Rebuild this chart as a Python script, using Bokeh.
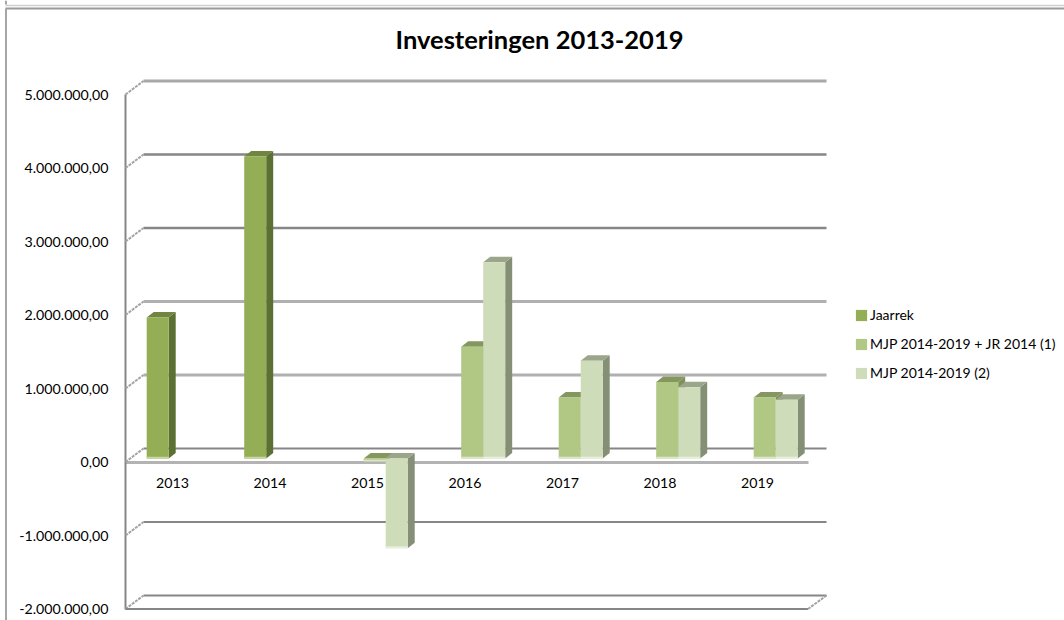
from bokeh.plotting import figure
from bokeh.embed import file_html
from bokeh.resources import INLINE
from bokeh.models import (Range1d, LinearAxis, FixedTicker, Label, Legend, LegendItem)

years = ["2013", "2014", "2015", "2016", "2017", "2018", "2019"]
jaarrek = [1920000, 4110000, None, None, None, None, None]
mjp_jr = [None, None, -40000, 1520000, 830000, 1040000, 830000]
mjp = [None, None, -1220000, 2670000, 1330000, 970000, 800000]
value_ticks = [5000000, 4000000, 3000000, 2000000, 1000000, 0, -1000000, -2000000]
value_labels = ["5.000.000,00", "4.000.000,00", "3.000.000,00", "2.000.000,00",
                "1.000.000,00", "0,00", "-1.000.000,00", "-2.000.000,00"]

W, H = 1064, 620
FONT = "Lato"
PX_PER_CAT, CAT0 = 97.5, 172.0
PX_PER_VAL, ZERO = 73.5 / 1e6, 461.5

def xd(px):
    return (px - CAT0) / PX_PER_CAT

def yd(px):
    return (ZERO - px) / PX_PER_VAL

dxc = 1 / PX_PER_CAT      # one pixel, in category units
dyv = 1 / PX_PER_VAL      # one pixel, in value units

p = figure(width=W, height=H, output_backend="svg", toolbar_location=None,
           x_axis_type=None, y_axis_type=None, title=None,
           x_range=Range1d(xd(0), xd(W)), y_range=Range1d(yd(H), yd(0)),
           min_border=0, outline_line_color=None, background_fill_color="white")
p.xgrid.visible = False
p.ygrid.visible = False

# outer worksheet frames
p.segment(x0=[xd(5), xd(5)], y0=[yd(5), yd(8)], x1=[xd(W), xd(W)], y1=[yd(5), yd(8)],
          line_color=["#cfcfcf", "#9a9a9a"], line_width=[1.5, 2])
p.segment(x0=[xd(5.5), xd(5.5)], y0=[yd(0), yd(8)], x1=[xd(5.5), xd(5.5)], y1=[yd(4), yd(H)],
          line_color="#a6a6a6", line_width=2)

# 3D box: back wall lines and slanted floor/wall connectors
back_x0, back_x1 = xd(143), xd(826)
front_x0, front_x1 = xd(125), xd(807.5)
back_up = 13.5 * dyv
grid_colors = ["#a8a8a8", "#868686", "#868686", "#b0b0b0", "#b0b0b0", "#868686", "#868686", "#868686"]
grid_widths = [3, 2.5, 2.5, 3, 3, 2, 2, 2]
p.segment(x0=[back_x0] * 8, x1=[back_x1] * 8,
          y0=[t + back_up for t in value_ticks], y1=[t + back_up for t in value_ticks],
          line_color=grid_colors, line_width=grid_widths)
p.segment(x0=[front_x0] * 8, x1=[back_x0] * 8,
          y0=value_ticks, y1=[t + back_up for t in value_ticks],
          line_color="#a3a3a3", line_width=2, line_dash="3 1")
p.segment(x0=[front_x0], x1=[front_x1],
          y0=[value_ticks[-1]], y1=[value_ticks[-1]],
          line_color="#868686", line_width=2)
p.segment(x0=[front_x1], x1=[back_x1],
          y0=[value_ticks[-1]], y1=[value_ticks[-1] + back_up],
          line_color="#a3a3a3", line_width=2, line_dash="3 1")

yaxis = LinearAxis(fixed_location=xd(125), ticker=FixedTicker(ticks=value_ticks),
                   major_label_overrides=dict(zip(value_ticks, value_labels)),
                   bounds=(value_ticks[-1], value_ticks[0]),
                   axis_line_color="#868686", axis_line_width=2,
                   major_tick_line_color=None, minor_tick_line_color=None,
                   major_label_text_font=FONT, major_label_text_font_size="14.2px",
                   major_label_text_color="#000000", major_label_standoff=11, level="underlay")
p.add_layout(yaxis, "left")

xaxis = LinearAxis(fixed_location=0, ticker=FixedTicker(ticks=list(range(len(years)))),
                   major_label_overrides=dict(enumerate(years)),
                   bounds=(front_x0, front_x1),
                   axis_line_color="#b3b3b3", axis_line_width=3,
                   major_tick_line_color=None, minor_tick_line_color=None,
                   major_label_text_font=FONT, major_label_text_font_size="14.2px",
                   major_label_text_color="#000000", major_label_standoff=10, level="underlay")
p.add_layout(xaxis, "below")

# bars
BAR_W, DEPTH_X, DEPTH_Y, LIFT = 22, 7, 5.5, 3.5
series = [
    ("Jaarrek", jaarrek, 146.2, "#94ae55", "#5d7033", "#6f8540", "#c6d6a0"),
    ("MJP 2014-2019 + JR 2014 (1)", mjp_jr, 168.2, "#b1c784", "#7f9058", "#84975f", "#dde6c8"),
    ("MJP 2014-2019 (2)", mjp, 190.2, "#cfdcb9", "#858f76", "#9ba58a", "#e9efdd"),
]
items = []
for name, vals, x_start, front, side, top_c, base in series:
    idx = [i for i, v in enumerate(vals) if v is not None]
    left = [i + xd(x_start) for i in idx]
    right = [l + BAR_W * dxc for l in left]
    tops = [max(vals[i], 0) + LIFT * dyv for i in idx]
    bots = [min(vals[i], 0) + LIFT * dyv for i in idx]
    ddx, ddy = DEPTH_X * dxc, DEPTH_Y * dyv
    p.patches(xs=[[r, r + ddx, r + ddx, r] for r in right],
              ys=[[b, b + ddy, t + ddy, t] for b, t in zip(bots, tops)],
              fill_color=side, line_color=None)
    p.patches(xs=[[l, l + ddx, r + ddx, r] for l, r in zip(left, right)],
              ys=[[t, t + ddy, t + ddy, t] for t in tops],
              fill_color=top_c, line_color=None)
    q = p.quad(left=left, right=right, top=tops, bottom=bots, fill_color=front, line_color=None)
    p.quad(left=left, right=right, top=[b + 1.8 * dyv for b in bots], bottom=bots,
           fill_color=base, line_color=None)
    items.append(LegendItem(label=name, renderers=[q]))

legend = Legend(items=items, location=(854, 239), orientation="vertical",
                background_fill_alpha=0, border_line_color=None,
                padding=0, margin=0, spacing=12, glyph_width=14, glyph_height=14,
                label_height=14, label_standoff=2,
                label_text_font=FONT, label_text_font_size="14px", label_text_color="#000000")
p.add_layout(legend, "center")

p.add_layout(Label(x=539, y=H - 38, x_units="screen", y_units="screen",
                   text="Investeringen 2013-2019", text_font=FONT, text_font_size="25.5px",
                   text_font_style="bold", text_color="#000000",
                   text_align="center", text_baseline="middle"))

open("out.html", "w").write(file_html(p, INLINE))
